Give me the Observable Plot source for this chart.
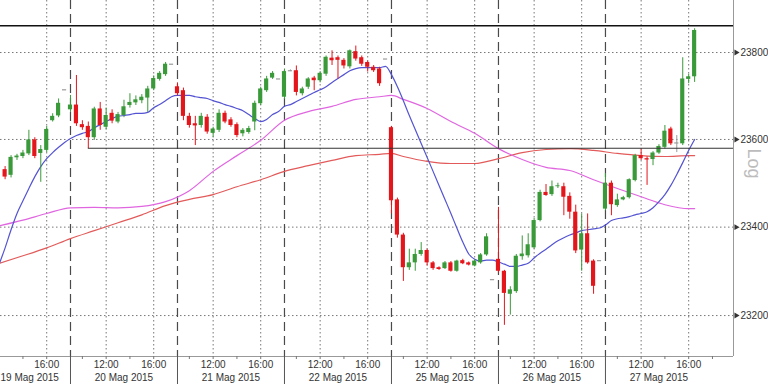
<!DOCTYPE html>
<html><head><meta charset="utf-8">
<script src="https://cdn.jsdelivr.net/npm/d3@7"></script>
<script src="https://cdn.jsdelivr.net/npm/@observablehq/plot@0.6"></script>
<style>html,body{margin:0;padding:0;background:#fff;}</style>
</head><body><div id="chart"></div>
<script>
// ---- data (30-minute candles, slot = day*18 + half-hour index from 09:00) ----
const dayLabels = ["19 Mag 2015","20 Mag 2015","21 Mag 2015","22 Mag 2015","25 Mag 2015","26 Mag 2015","27 Mag 2015"];
const dayCenterSlots = [9,27,45,63,81,99,117];
const sepSlots = [18,36,54,72,90,108];
const timeTickSlots = [14,24,32,42,50,60,68,78,86,96,104,114,122];
const timeTickLabels = ["16:00","12:00","16:00","12:00","16:00","12:00","16:00","12:00","16:00","12:00","16:00","12:00","16:00"];
const hourTickSlots = [10,14,20,24,28,32,38,42,46,50,56,60,64,68,74,78,82,86,92,96,100,104,110,114,118,122,126];
const yTicks = [23200,23400,23600,23800];
const yDomain = [23108,23920.5];
const xDomain = [6.225,129.54];
const topLineValue = 23862;
const supportValue = 23580;
const supportStartSlot = 21;

const firstSlot = 7;
const open = [23531,23518,23558,23561,23567,23599,23568,23575,23643,23654,23714,
23668,23679,23634,23630,23604,23670,23628,23660,23640,23655,23678,23684,23689,23695,23716,23738,23749,23773,
23721,23712,23653,23636,23632,23651,23614,23621,23660,23645,23634,23613,23616,23640,23682,23712,23741,23739,
23697,23758,23758,23705,23720,23741,23735,23750,23787,23788,23782,23767,23802,23788,23777,23766,23762,23785,
23627,23462,23382,23308,23319,23338,23347,23319,23308,23306,23319,23300,23324,23319,23312,23319,23337,23281,
23327,23300,23248,23254,23333,23335,23353,23415,23479,23474,23492,23492,23470,23434,23348,23385,23323,23324,
23441,23500,23449,23462,23467,23506,23563,23556,23554,23569,23582,23624,23592,23590,23738,23744];
const close = [23514,23559,23562,23569,23599,23561,23577,23623,23653,23683,23714,
23679,23636,23627,23604,23670,23632,23655,23642,23657,23675,23685,23691,23697,23716,23740,23752,23773,23773,
23705,23653,23632,23631,23653,23617,23624,23660,23640,23632,23609,23621,23625,23683,23716,23739,23752,23739,
23756,23758,23708,23716,23739,23735,23752,23789,23781,23782,23769,23804,23785,23773,23766,23758,23728,23785,
23460,23382,23308,23319,23338,23347,23319,23306,23304,23319,23300,23323,23317,23314,23323,23337,23378,23281,
23300,23250,23258,23334,23339,23360,23415,23479,23472,23492,23494,23468,23434,23346,23385,23319,23266,23324,
23500,23451,23462,23467,23508,23563,23556,23553,23569,23584,23619,23590,23592,23739,23744,23851];
const high = [23538,23563,23566,23575,23621,23604,23586,23630,23659,23693,23714,
23701,23747,23643,23640,23674,23685,23672,23668,23662,23690,23705,23700,23703,23722,23746,23756,23777,23773,
23730,23718,23660,23653,23660,23657,23628,23668,23665,23650,23638,23625,23630,23688,23720,23745,23756,23739,
23762,23760,23769,23720,23742,23745,23756,23792,23804,23792,23786,23806,23815,23792,23780,23770,23766,23785,
23630,23466,23386,23350,23350,23365,23350,23322,23310,23322,23322,23325,23327,23321,23326,23340,23385,23281,
23445,23302,23265,23338,23380,23385,23420,23484,23497,23505,23500,23500,23478,23450,23430,23430,23326,23324,
23522,23505,23475,23470,23510,23566,23578,23560,23572,23588,23632,23628,23609,23788,23750,23855];
const low = [23508,23512,23552,23556,23563,23556,23502,23570,23640,23650,23714,
23662,23630,23621,23579,23598,23621,23622,23636,23636,23650,23672,23678,23682,23662,23712,23734,23745,23773,
23700,23643,23626,23586,23626,23612,23605,23616,23636,23628,23604,23606,23612,23620,23678,23708,23738,23739,
23692,23756,23700,23700,23715,23712,23730,23745,23770,23739,23762,23762,23780,23768,23755,23754,23722,23785,
23430,23375,23277,23302,23300,23334,23312,23302,23302,23304,23298,23298,23315,23312,23310,23316,23334,23281,
23296,23178,23201,23250,23325,23330,23350,23412,23470,23470,23488,23426,23418,23340,23300,23316,23248,23324,
23437,23426,23445,23460,23464,23503,23552,23495,23540,23566,23578,23586,23570,23586,23728,23731];

// fast moving average (blue), one value per slot from slot 6
const blueFirstSlot = 6;
const blueMA = [23316,23353,23394,23431,23460,23488,23515,23538,23556,23570,23582,23593,
23602,23609,23614,23618,23627,23634,23641,23648,23653,23655,23657,23660,23660,23662,23673,23680,23689,23698,
23701,23701,23701,23698,23696,23694,23689,23685,23680,23676,23671,23666,23657,23648,23641,23646,23657,23664,
23676,23680,23687,23694,23701,23708,23714,23721,23731,23740,23749,23758,23763,23765,23765,23765,23765,23768,
23749,23721,23689,23655,23623,23591,23559,23527,23495,23463,23431,23398,23366,23339,23327,23323,23325,23325,
23321,23316,23311,23311,23314,23318,23330,23341,23350,23360,23369,23376,23382,23387,23392,23394,23396,23398,
23405,23415,23419,23421,23424,23428,23431,23435,23444,23458,23474,23495,23520,23547,23575,23600];
// slower moving averages (magenta, red) read at these slots
const maSlots = [6,10,14,18,22,26,30,34,38,42,46,50,54,58,62,66,70,72,74,78,82,86,90,94,98,102,106,110,114,118,122,123];
const magentaMA = [23403,23416,23431,23444,23445,23444,23447,23458,23483,23527,23563,23598,23644,23664,23676,23692,23698,23701,23692,23671,23641,23614,23579,23554,23536,23529,23508,23488,23469,23451,23442,23442];
const redMA = [23318,23335,23353,23374,23392,23410,23428,23449,23463,23474,23492,23508,23527,23540,23552,23563,23566,23568,23561,23550,23545,23545,23556,23570,23577,23579,23575,23568,23563,23561,23563,23563];

// ---- build tables ----
const candles = open.map((o,i)=>({s:firstSlot+i,o,c:close[i],h:high[i],l:low[i]}));
const UP = "#3a9a3a", DOWN = "#e3161c", FLAT = "#9a9a9a";
const col = d => d.c > d.o ? UP : d.c < d.o ? DOWN : FLAT;
const blue = blueMA.map((v,i)=>({s:blueFirstSlot+i,v}));
const magenta = magentaMA.map((v,i)=>({s:maSlots[i],v}));
const red = redMA.map((v,i)=>({s:maSlots[i],v}));
const timeTicks = timeTickSlots.map((s,i)=>({s,t:timeTickLabels[i]}));
const days = dayLabels.map((t,i)=>({s:dayCenterSlots[i],t}));
const hw = 0.35;

const chart = Plot.plot({
  width: 768, height: 384,
  marginTop: 0, marginBottom: 28, marginLeft: 0, marginRight: 35,
  style: {fontFamily: "Liberation Sans, Arial, sans-serif", fontSize: "10px", color: "#333", background: "#fff"},
  x: {type: "linear", domain: xDomain, axis: null, label: null},
  y: {type: "log", domain: yDomain, axis: null, label: null},
  marks: [
    Plot.ruleY(yTicks, {stroke: "#777", strokeDasharray: "1.5,2.5", strokeWidth: 1}),
    Plot.ruleX(timeTickSlots, {stroke: "#777", strokeDasharray: "1.5,2.5", strokeWidth: 1}),
    Plot.ruleX(sepSlots, {stroke: "#4a4a4a", strokeDasharray: "9,5", strokeWidth: 1.2}),
    Plot.line(red, {x: "s", y: "v", stroke: "#e35a5a", strokeWidth: 1.2, curve: "monotone-x", clip: true}),
    Plot.line(magenta, {x: "s", y: "v", stroke: "#e066e0", strokeWidth: 1.2, curve: "monotone-x", clip: true}),
    Plot.line(blue, {x: "s", y: "v", stroke: "#5353d3", strokeWidth: 1.2, curve: "monotone-x", clip: true}),
    Plot.ruleX(candles, {x: "s", y1: "l", y2: "h", stroke: col, strokeWidth: 1}),
    Plot.rect(candles.filter(d => d.o !== d.c), {x1: d => d.s - hw, x2: d => d.s + hw, y1: "o", y2: "c", fill: col}),
    Plot.ruleY(candles.filter(d => d.o === d.c), {y: "c", x1: d => d.s - hw, x2: d => d.s + hw, stroke: FLAT, strokeWidth: 1.2}),
    Plot.ruleY([topLineValue], {stroke: "#111", strokeWidth: 1.6}),
    Plot.ruleY([supportValue], {x1: supportStartSlot, x2: xDomain[1], stroke: "#333", strokeWidth: 1.1}),
    Plot.ruleX([xDomain[1]], {stroke: "#999", strokeWidth: 1}),
    Plot.ruleY([yDomain[0]], {stroke: "#999", strokeWidth: 1}),
    // right axis
    Plot.dot(yTicks, {x: () => xDomain[1] + 0.45, y: d => d, symbol: "triangle", r: 2.2, rotate: 90, fill: "#333", stroke: null}),
    Plot.text(yTicks, {x: () => xDomain[1], y: d => d, text: d => String(d), dx: 7, textAnchor: "start", fontSize: 10, fill: "#333"}),
    Plot.text(["Log"], {frameAnchor: "right", dx: 20, dy: 0, rotate: 90, fontSize: 18, fill: "#bcbcbc"}),
    // bottom axis
    Plot.axisX(sepSlots, {tickSize: 28, tickFormat: () => "", stroke: "#555", label: null}),
    Plot.axisX(hourTickSlots, {tickSize: 3, tickFormat: () => "", stroke: "#777", label: null}),
    Plot.text(timeTicks, {x: "s", text: "t", frameAnchor: "bottom", dy: 8, lineAnchor: "middle", fontSize: 10, fill: "#333"}),
    Plot.text(days.slice(1), {x: "s", text: "t", frameAnchor: "bottom", dy: 21, lineAnchor: "middle", fontSize: 10, fill: "#333"}),
    Plot.text(days.slice(0,1), {x: () => xDomain[0], text: "t", frameAnchor: "bottom", dy: 21, textAnchor: "start", lineAnchor: "middle", fontSize: 10, fill: "#333"})
  ]
});
document.getElementById("chart").append(chart);
</script>
</body></html>
